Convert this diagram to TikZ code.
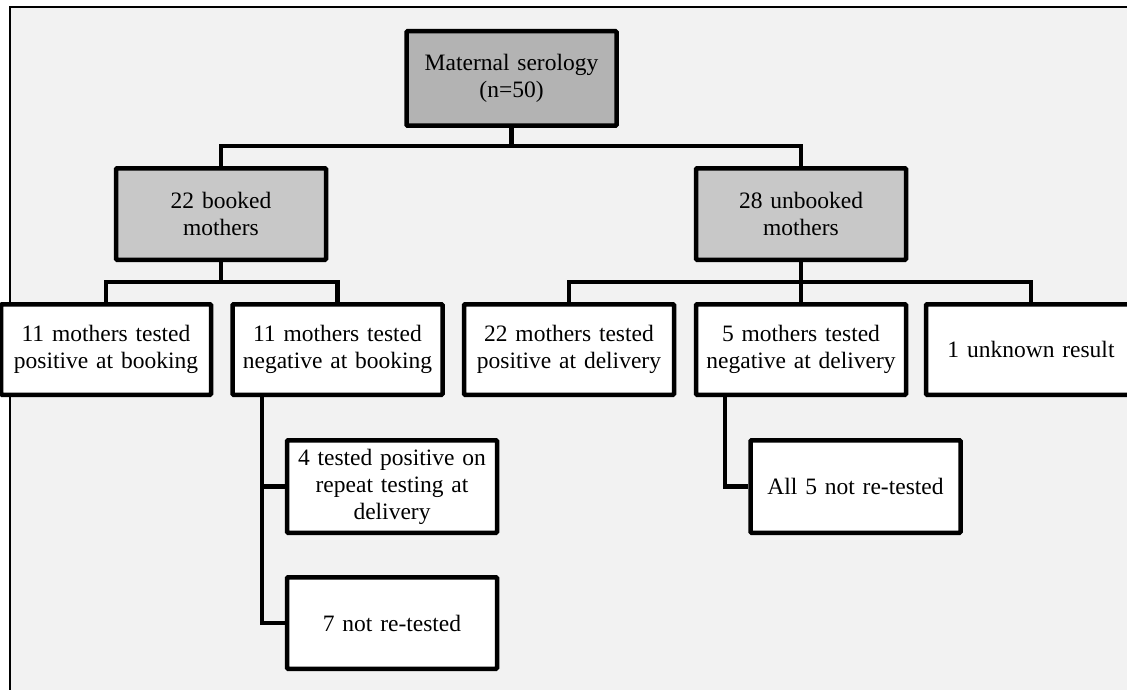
\documentclass[tikz,border=0pt]{standalone}
\usepackage{fontspec}
\setmainfont{Liberation Serif}
\definecolor{bgfill}{HTML}{F2F2F2}
\definecolor{topfill}{HTML}{B3B3B3}
\definecolor{midfill}{HTML}{C8C8C8}
\tikzset{
  box/.style={draw=black, line width=4.5pt, rounded corners=1pt, fill=white,
    align=center, inner sep=0pt, text width=210pt,
    font=\fontsize{23.5}{27}\selectfont},
  link/.style={draw=black, line width=4.3pt, line join=miter},
  frameline/.style={draw=black, line width=2.2pt}
}
\begin{document}
\begin{tikzpicture}[x=1pt,y=-1pt]
\useasboundingbox (0,0) rectangle (1127,690);
\begin{scope}
\clip (0,0) rectangle (1127,690);
\fill[bgfill] (10,7) rectangle (1140,700);
\draw[frameline] (10,700) -- (10,7) -- (1140,7);
\end{scope}

\node[box, fill=topfill, minimum width=190.5pt, minimum height=94.5pt] (top) at (511.5,78.5) {Maternal serology\\(n=50)};
\node[box, fill=midfill, minimum width=187.5pt, minimum height=91.5pt] (booked) at (221,214) {22 booked\\mothers};
\node[box, fill=midfill, minimum width=187.5pt, minimum height=91.5pt] (unbooked) at (801,214) {28 unbooked\\mothers};

\node[box, minimum width=187.5pt, minimum height=90.5pt] (A) at (106,349.5) {11 mothers tested\\positive at booking};
\node[box, minimum width=186.5pt, minimum height=90.5pt] (B) at (337.5,349.5) {11 mothers tested\\negative at booking};
\node[box, minimum width=187.5pt, minimum height=90.5pt] (C) at (569,349.5) {22 mothers tested\\positive at delivery};
\node[box, minimum width=187.5pt, minimum height=90.5pt] (D) at (801,349.5) {5 mothers tested\\negative at delivery};
\node[box, minimum width=183.5pt, minimum height=90.5pt] (E) at (1031,349.5) {1 unknown result};

\node[box, minimum width=201.5pt, minimum height=92.5pt] (F) at (392,486.5) {4 tested positive on\\repeat testing at\\delivery};
\node[box, minimum width=201.5pt, minimum height=91.5pt] (G) at (392,623) {7 not re-tested};
\node[box, minimum width=200.5pt, minimum height=92.5pt] (H) at (855.5,486.5) {All 5 not re-tested};

\coordinate (j1) at (511.5,146);
\coordinate (j2) at (221,282);
\coordinate (j3) at (801,282);
\coordinate (bx) at (262,0);
\coordinate (dx) at (725,0);

\draw[link] (top.south) -- (j1);
\draw[link] (booked.north) |- (j1) -| (unbooked.north);
\draw[link] (booked.south) -- (j2);
\draw[link] (A.north) |- (j2) -| (B.north);
\draw[link] (unbooked.south) -- (D.north);
\draw[link] (C.north) |- (j3) -| (E.north);
\draw[link] (bx |- B.south) -- (bx |- G.west) -- (G.west);
\draw[link] (bx |- F.west) -- (F.west);
\draw[link] (dx |- D.south) -- (dx |- H.west) -- (H.west);
\end{tikzpicture}
\end{document}
